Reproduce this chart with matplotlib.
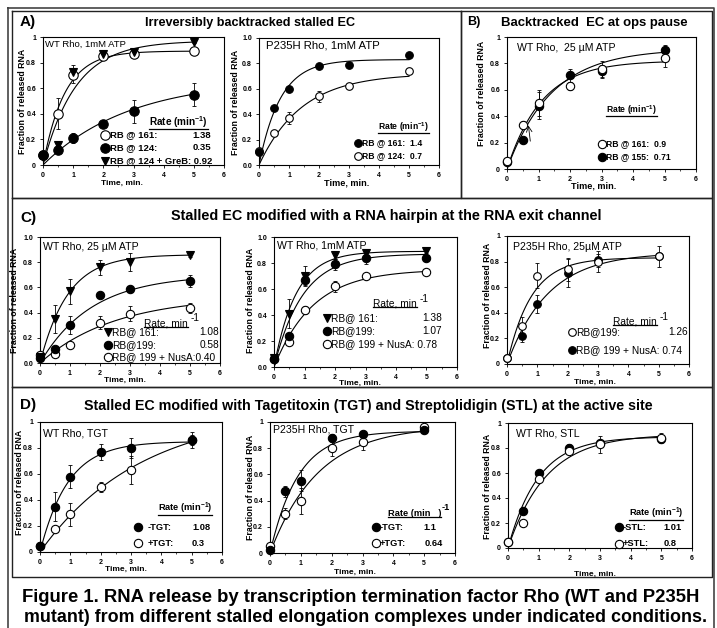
import numpy as np
import matplotlib
matplotlib.use("Agg")
import matplotlib.pyplot as plt
from matplotlib.lines import Line2D
from matplotlib.ticker import MultipleLocator
from matplotlib import font_manager

names = {f.name for f in font_manager.fontManager.ttflist}
FONT = 'Liberation Sans Narrow' if 'Liberation Sans Narrow' in names else 'Liberation Sans'
plt.rcParams['font.family'] = [FONT, 'DejaVu Sans']
plt.rcParams['mathtext.fontset'] = 'custom'
plt.rcParams['mathtext.rm'] = FONT
plt.rcParams['mathtext.bf'] = FONT + ':bold'

# ---------------- data ----------------
T = [0, 0.5, 1, 2, 3, 5]

# Panel A left: WT Rho, 1 mM ATP
a1_rb161 = [0.08, 0.40, 0.70, 0.85, 0.87, 0.89]
a1_rb161_err = [0.02, 0.12, 0.06, 0.02, 0.03, 0.0]
a1_rb124 = [0.08, 0.12, 0.21, 0.32, 0.42, 0.55]
a1_rb124_err = [0.02, 0.02, 0.04, 0.01, 0.09, 0.09]
a1_greb = [0.06, 0.16, 0.73, 0.87, 0.88, 0.96]
a1_greb_err = [0.02, 0.03, 0.05, 0.03, 0.03, 0.01]
a1_rates = [1.38, 0.35, 0.92]
a1_plateau = [0.89, 0.67, 0.97]

# Panel A right: P235H Rho, 1 mM ATP
a2_rb161 = [0.10, 0.45, 0.60, 0.78, 0.79, 0.87]
a2_rb161_err = [0, 0, 0, 0, 0, 0]
a2_rb124 = [0.11, 0.25, 0.37, 0.54, 0.62, 0.74]
a2_rb124_err = [0, 0, 0.05, 0.04, 0, 0.02]
a2_rates = [1.4, 0.7]
a2_plateau = [0.83, 0.72]

# Panel B: WT Rho, 25 uM ATP (ops pause)
b_rb161 = [0.06, 0.33, 0.50, 0.63, 0.76, 0.84]
b_rb161_err = [0, 0.03, 0.10, 0.03, 0.06, 0.07]
b_rb155 = [0.05, 0.22, 0.48, 0.71, 0.74, 0.90]
b_rb155_err = [0, 0, 0.10, 0.05, 0.05, 0.04]
b_rates = [0.9, 0.71]
b_plateau = [0.82, 0.91]

# Panel C left: WT Rho, 25 uM ATP
c1_rb161 = [0.05, 0.35, 0.57, 0.76, 0.80, 0.86]
c1_rb161_err = [0, 0.11, 0.10, 0.06, 0.07, 0.02]
c1_rb199 = [0.04, 0.11, 0.30, 0.54, 0.59, 0.65]
c1_rb199_err = [0, 0, 0.07, 0, 0, 0.05]
c1_nusa = [0.06, 0.07, 0.145, 0.32, 0.39, 0.44]
c1_nusa_err = [0, 0, 0, 0.05, 0.06, 0.04]
c1_rates = [1.08, 0.58, 0.40]
c1_plateau = [0.86, 0.70, 0.53]

# Panel C middle: WT Rho, 1 mM ATP
c2_rb161 = [0.07, 0.41, 0.70, 0.86, 0.88, 0.89]
c2_rb161_err = [0, 0.11, 0.08, 0.03, 0.02, 0.01]
c2_rb199 = [0.06, 0.24, 0.67, 0.79, 0.84, 0.84]
c2_rb199_err = [0, 0, 0.04, 0.04, 0.05, 0.02]
c2_nusa = [0.06, 0.19, 0.44, 0.62, 0.70, 0.73]
c2_nusa_err = [0, 0, 0.03, 0.04, 0, 0]
c2_rates = [1.38, 1.07, 0.78]
c2_plateau = [0.89, 0.87, 0.75]

# Panel C right: P235H Rho, 25 uM ATP
c3_rb199 = [0.05, 0.30, 0.69, 0.74, 0.80, 0.84]
c3_rb199_err = [0, 0.07, 0.10, 0.09, 0.08, 0.08]
c3_nusa = [0.05, 0.22, 0.47, 0.71, 0.81, 0.84]
c3_nusa_err = [0, 0.05, 0.07, 0.11, 0.05, 0.02]
c3_rates = [1.26, 0.74]
c3_plateau = [0.83, 0.87]

# Panel D left: WT Rho, TGT
d1_minus = [0.05, 0.35, 0.58, 0.77, 0.80, 0.86]
d1_minus_err = [0, 0.11, 0.09, 0.06, 0.08, 0.04]
d1_plus = [0.05, 0.18, 0.29, 0.50, 0.63, 0.86]
d1_plus_err = [0, 0, 0.09, 0.04, 0.11, 0.06]
d1_rates = [1.08, 0.3]
d1_plateau = [0.85, 1.09]

# Panel D middle: P235H Rho, TGT
d2_minus = [0.02, 0.47, 0.55, 0.88, 0.91, 0.94]
d2_minus_err = [0, 0.04, 0.08, 0.03, 0.02, 0]
d2_plus = [0.05, 0.30, 0.40, 0.80, 0.85, 0.96]
d2_plus_err = [0, 0.04, 0.10, 0.06, 0.06, 0]
d2_rates = [1.1, 0.64]
d2_plateau = [0.93, 0.97]

# Panel D right: WT Rho, STL
d3_minus = [0.05, 0.30, 0.60, 0.80, 0.84, 0.87]
d3_minus_err = [0, 0, 0, 0.03, 0, 0.02]
d3_plus = [0.05, 0.20, 0.55, 0.78, 0.83, 0.88]
d3_plus_err = [0, 0, 0, 0.02, 0.07, 0.04]
d3_rates = [1.01, 0.8]
d3_plateau = [0.89, 0.91]

XTICKS = [0, 1, 2, 3, 4, 5, 6]
YTICKS = [0, 0.2, 0.4, 0.6, 0.8, 1.0]
YLAB_SHORT = ['0', '0.2', '0.4', '0.6', '0.8', '1']
YLAB_LONG = ['0.0', '0.2', '0.4', '0.6', '0.8', '1.0']

# ---------------- figure ----------------
W, H = 717, 628
fig = plt.figure(figsize=(W / 100, H / 100), dpi=100)
fig.patch.set_facecolor('white')
renderer = fig.canvas.get_renderer()


def put(s, x, y, size=None, w=None, ha='left', va='center', rot=0, weight='normal',
        underline=False):
    t = fig.text(x / W, 1 - y / H, s, ha=ha, va=va, rotation=rot,
                 fontsize=size if size else 10, fontweight=weight)
    if w is not None:
        bb = t.get_window_extent(renderer)
        cur = bb.height if rot == 90 else bb.width
        t.set_fontsize(10 * w / cur)
    if underline:
        bb = t.get_window_extent(renderer)
        yy = bb.y0 + 1.0
        fig.add_artist(Line2D([bb.x0 / W, bb.x1 / W], [yy / H, yy / H],
                              transform=fig.transFigure, color='black', lw=0.9))
    return t


STY = {
    'filled': dict(marker='o', mfc='black', mec='black'),
    'open': dict(marker='o', mfc='white', mec='black'),
    'tri': dict(marker='v', mfc='black', mec='black'),
}


def mark(x, y, style, ms):
    fig.add_artist(Line2D([x / W], [1 - y / H], transform=fig.transFigure,
                          linestyle='none', ms=ms, mew=0.8, **STY[style]))


def make_ax(x0, x6, ytop, ybot, ylabels):
    ax = fig.add_axes([x0 / W, 1 - ybot / H, (x6 - x0) / W, (ybot - ytop) / H])
    ax.set_xlim(0, 6)
    ax.set_ylim(0, 1)
    ax.set_xticks(XTICKS)
    ax.set_yticks(YTICKS)
    ax.set_yticklabels(ylabels)
    ax.xaxis.set_minor_locator(MultipleLocator(0.5))
    ax.tick_params(which='major', labelsize=5, length=2.5, width=0.6, pad=2.5)
    ax.tick_params(which='minor', length=1.5, width=0.5)
    for lb in ax.get_xticklabels() + ax.get_yticklabels():
        lb.set_fontweight('bold')
    for sp in ax.spines.values():
        sp.set_linewidth(0.8)
    ax.set_facecolor('none')
    return ax


def series(ax, y, err, style, k, A, ms):
    tt = np.linspace(0, 5, 120)
    ax.plot(tt, A * (1 - np.exp(-k * tt)), color='black', lw=0.8, zorder=2)
    t_e = [t for t, e in zip(T, err) if e > 0]
    y_e = [v for v, e in zip(y, err) if e > 0]
    e_e = [e for e in err if e > 0]
    if e_e:
        ax.errorbar(t_e, y_e, yerr=e_e, fmt='none', ecolor='black', elinewidth=0.6,
                    capsize=1.6, capthick=0.6, zorder=2.5)
    ax.plot(T, y, linestyle='none', ms=ms, mew=0.8, clip_on=False, zorder=3, **STY[style])


# ---------------- borders ----------------
def rect(x0, y0, x1, y1, lw=1.0, color='#222222'):
    xs = [x0, x1, x1, x0, x0]
    ys = [y0, y0, y1, y1, y0]
    fig.add_artist(Line2D([x / W for x in xs], [1 - y / H for y in ys],
                          transform=fig.transFigure, color=color, lw=lw))

rect(8, 8, 714, 640, lw=1.2, color='#444444')
rect(12, 11, 461, 198)
rect(461, 11, 712, 198)
rect(12, 198, 712, 387)
rect(12, 387, 712, 577)

YL = 6.3    # y-axis label size
XL = 6.0    # x-axis label size
ANN = 7.6   # in-plot annotation size

# ---------------- Panel A left ----------------
ax = make_ax(43, 224, 37, 165, YLAB_SHORT)
series(ax, a1_rb161, a1_rb161_err, 'open', a1_rates[0], a1_plateau[0], 6.8)
series(ax, a1_rb124, a1_rb124_err, 'filled', a1_rates[1], a1_plateau[1], 6.8)
series(ax, a1_greb, a1_greb_err, 'tri', a1_rates[2], a1_plateau[2], 6.3)
put('WT Rho, 1mM ATP', 45, 44, size=6.8)
put(r'Rate (min$^{\mathbf{-1}}$)', 208, 122, size=7.2, ha='right', weight='bold', underline=True)
for yy, st, lab, val in [(135, 'open', 'RB @ 161:', a1_rates[0]),
                         (148, 'filled', 'RB @ 124:', a1_rates[1])]:
    mark(105, yy, st, 6.8)
    put(lab, 110, yy, size=6.8, weight='bold')
    put(f'{val:.2f}', 211, yy, size=6.8, ha='right', weight='bold')
mark(105, 161, 'tri', 6.3)
put(f'RB @ 124 + GreB: {a1_rates[2]:.2f}', 110, 161, size=6.8, weight='bold')
put('Fraction of released RNA', 23, 101, size=YL, ha='center', rot=90, weight='bold')
put('Time, min.', 122, 183, size=XL, ha='center', weight='bold')

# ---------------- Panel A right ----------------
ax = make_ax(259, 439, 38, 165, YLAB_LONG)
series(ax, a2_rb124, a2_rb124_err, 'open', a2_rates[1], a2_plateau[1], 5.5)
series(ax, a2_rb161, a2_rb161_err, 'filled', a2_rates[0], a2_plateau[0], 5.5)
put('P235H Rho, 1mM ATP', 266, 45, size=8.2)
put(r'Rate (min$^{\mathbf{-1}}$)', 429, 127, size=6.2, ha='right', weight='bold', underline=True)
mark(358, 143, 'filled', 5.5)
put(f'RB @ 161:  {a2_rates[0]}', 362, 143, size=6.2, weight='bold')
mark(358, 156, 'open', 5.5)
put(f'RB @ 124:  {a2_rates[1]}', 362, 156, size=6.2, weight='bold')
put('Fraction of released RNA', 235, 102, size=YL, ha='center', rot=90, weight='bold')
put('Time, min.', 347, 183, size=6.6, ha='center', weight='bold')

put('A)', 20, 22, size=11, weight='bold')
put('Irreversibly backtracked stalled EC', 250, 23, w=210, ha='center', weight='bold')

# ---------------- Panel B ----------------
ax = make_ax(507, 696, 37, 169, YLAB_SHORT)
series(ax, b_rb155, b_rb155_err, 'filled', b_rates[1], b_plateau[1], 6)
series(ax, b_rb161, b_rb161_err, 'open', b_rates[0], b_plateau[0], 6)
ax.annotate('', xy=(0.67, 0.35), xytext=(0.75, 0.19),
            arrowprops=dict(arrowstyle='->', lw=0.6, color='black'))
put('WT Rho,  25 \u00b5M ATP', 517, 48, size=ANN)
put(r'Rate (min$^{\mathbf{-1}}$)', 657, 110, size=6.2, ha='right', weight='bold', underline=True)
mark(602, 144, 'open', 6)
put(f'RB @ 161:  {b_rates[0]}', 606, 144, size=6.2, weight='bold')
mark(602, 157, 'filled', 6)
put(f'RB @ 155:  {b_rates[1]}', 606, 157, size=6.2, weight='bold')
put('Fraction of released RNA', 482, 93, size=YL, ha='center', rot=90, weight='bold')
put('Time, min.', 594, 186, size=6.6, ha='center', weight='bold')
put('B)', 467, 22, size=9, weight='bold')
put('Backtracked  EC at ops pause', 594, 23, w=188, ha='center', weight='bold')

# ---------------- Panel C left ----------------
LC = 7.3
ax = make_ax(40, 220, 237, 363, YLAB_LONG)
series(ax, c1_nusa, c1_nusa_err, 'open', c1_rates[2], c1_plateau[2], 6)
series(ax, c1_rb199, c1_rb199_err, 'filled', c1_rates[1], c1_plateau[1], 6)
series(ax, c1_rb161, c1_rb161_err, 'tri', c1_rates[0], c1_plateau[0], 6)
put('WT Rho, 25 \u00b5M ATP', 43, 247, size=ANN)
put('Rate, min', 188, 323, size=LC, ha='right', underline=True)
put('-1', 191, 318, size=LC)
mark(108, 332, 'tri', 6)
put('RB@ 161:', 112, 332, size=LC)
put(f'{c1_rates[0]:.2f}', 219, 332, size=LC, ha='right')
mark(108, 345, 'filled', 6)
put('RB@199:', 112, 345, size=LC)
put(f'{c1_rates[1]:.2f}', 219, 345, size=LC, ha='right')
mark(108, 357, 'open', 6)
put(f'RB@ 199 + NusA:{c1_rates[2]:.2f}', 112, 357, size=LC)
put('Fraction of released RNA', 15, 300, size=YL, ha='center', rot=90, weight='bold')
put('Time, min.', 125, 380, size=XL, ha='center', weight='bold')

# ---------------- Panel C middle ----------------
ax = make_ax(274, 457, 237, 367, YLAB_LONG)
series(ax, c2_nusa, c2_nusa_err, 'open', c2_rates[2], c2_plateau[2], 6)
series(ax, c2_rb199, c2_rb199_err, 'filled', c2_rates[1], c2_plateau[1], 6)
series(ax, c2_rb161, c2_rb161_err, 'tri', c2_rates[0], c2_plateau[0], 6)
put('WT Rho, 1mM ATP', 277, 245, size=ANN)
put('Rate, min', 417, 303, size=LC, ha='right', underline=True)
put('-1', 420, 299, size=LC)
mark(327, 318, 'tri', 6)
put('RB@ 161:', 331, 318, size=LC)
put(f'{c2_rates[0]:.2f}', 442, 318, size=LC, ha='right')
mark(327, 331, 'filled', 6)
put('RB@199:', 331, 331, size=LC)
put(f'{c2_rates[1]:.2f}', 442, 331, size=LC, ha='right')
mark(327, 344, 'open', 6)
put(f'RB@ 199 + NusA: {c2_rates[2]:.2f}', 331, 344, size=LC)
put('Fraction of released RNA', 250, 300, size=YL, ha='center', rot=90, weight='bold')
put('Time, min.', 360, 383, size=XL, ha='center', weight='bold')

# ---------------- Panel C right ----------------
ax = make_ax(507, 689, 236, 364, YLAB_SHORT)
series(ax, c3_nusa, c3_nusa_err, 'filled', c3_rates[1], c3_plateau[1], 5.5)
series(ax, c3_rb199, c3_rb199_err, 'open', c3_rates[0], c3_plateau[0], 5.5)
put('P235H Rho, 25\u00b5M ATP', 513, 247, size=ANN)
put('Rate, min', 657, 321, size=LC, ha='right', underline=True)
put('-1', 660, 317, size=LC)
mark(572, 332, 'open', 5.5)
put('RB@199:', 576, 332, size=LC)
put(f'{c3_rates[0]:.2f}', 688, 332, size=LC, ha='right')
mark(572, 350, 'filled', 5.5)
put(f'RB@ 199 + NusA: {c3_rates[1]:.2f}', 576, 350, size=LC)
put('Fraction of released RNA', 487, 295, size=YL, ha='center', rot=90, weight='bold')
put('Time, min.', 595, 382, size=XL, ha='center', weight='bold')

put('C)', 20, 218, size=11, weight='bold')
put('Stalled EC modified with a RNA hairpin at the RNA exit channel', 386, 216, w=429,
    ha='center', weight='bold')

# ---------------- Panel D left ----------------
LD = 6.7
ax = make_ax(40, 222, 422, 552, YLAB_SHORT)
series(ax, d1_plus, d1_plus_err, 'open', d1_rates[1], d1_plateau[1], 6)
series(ax, d1_minus, d1_minus_err, 'filled', d1_rates[0], d1_plateau[0], 6)
put('WT Rho, TGT', 43, 433, size=ANN)
put(r'Rate (min$^{\mathbf{-1}}$)', 212, 508, size=LD, ha='right', weight='bold', underline=True)
mark(138, 527, 'filled', 6)
put('-TGT:', 148, 527, size=LD, weight='bold')
put(f'{d1_rates[0]:.2f}', 192, 527, size=LD, weight='bold')
mark(138, 543, 'open', 6)
put('+TGT:', 148, 543, size=LD, weight='bold')
put(f'{d1_rates[1]}', 192, 543, size=LD, weight='bold')
put('Fraction of released RNA', 20, 482, size=YL, ha='center', rot=90, weight='bold')
put('Time, min.', 126, 569, size=XL, ha='center', weight='bold')

# ---------------- Panel D middle ----------------
ax = make_ax(270, 455, 422, 553, YLAB_SHORT)
series(ax, d2_plus, d2_plus_err, 'open', d2_rates[1], d2_plateau[1], 6)
series(ax, d2_minus, d2_minus_err, 'filled', d2_rates[0], d2_plateau[0], 6)
put('P235H Rho, TGT', 273, 430, size=ANN)
put('Rate (min   )', 441, 513, size=LD, ha='right', weight='bold', underline=True)
put('-1', 442, 508, size=LD, weight='bold')
mark(376, 527, 'filled', 6)
put('-TGT:', 380, 527, size=LD, weight='bold')
put(f'{d2_rates[0]}', 423, 527, size=LD, weight='bold')
mark(376, 543, 'open', 6)
put('+TGT:', 380, 543, size=LD, weight='bold')
put(f'{d2_rates[1]}', 425, 543, size=LD, weight='bold')
put('Fraction of released RNA', 250, 487, size=YL, ha='center', rot=90, weight='bold')
put('Time, min.', 355, 572, size=XL, ha='center', weight='bold')

# ---------------- Panel D right ----------------
ax = make_ax(508, 692, 423, 548, YLAB_SHORT)
series(ax, d3_minus, d3_minus_err, 'filled', d3_rates[0], d3_plateau[0], 6)
series(ax, d3_plus, d3_plus_err, 'open', d3_rates[1], d3_plateau[1], 6)
put('WT Rho, STL', 516, 433, size=ANN)
put(r'Rate (min$^{\mathbf{-1}}$)', 683, 513, size=LD, ha='right', weight='bold', underline=True)
mark(619, 527, 'filled', 6)
put('-STL:', 623, 527, size=LD, weight='bold')
put(f'{d3_rates[0]:.2f}', 663, 527, size=LD, weight='bold')
mark(619, 544, 'open', 6)
put('+STL:', 623, 544, size=LD, weight='bold')
put(f'{d3_rates[1]}', 664, 544, size=LD, weight='bold')
put('Fraction of released RNA', 487, 486, size=YL, ha='center', rot=90, weight='bold')
put('Time, min.', 595, 574, size=XL, ha='center', weight='bold')

put('D)', 20, 405, size=11, weight='bold')
put('Stalled EC modified with Tagetitoxin (TGT) and Streptolidigin (STL) at the active site',
    368, 406, w=569, ha='center', weight='bold')

# ---------------- caption ----------------
put('Figure 1. RNA release by transcription termination factor Rho (WT and P235H',
    361, 597, w=678, ha='center', weight='bold')
put('mutant) from different stalled elongation complexes under indicated conditions.',
    366, 618, w=683, ha='center', weight='bold')

fig.savefig('out.png', dpi=100)
